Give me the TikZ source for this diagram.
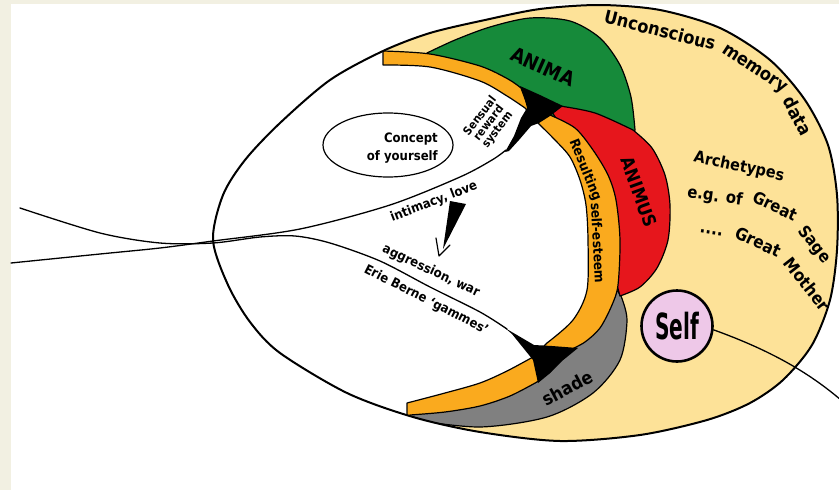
\documentclass[tikz,border=0pt]{standalone}
\usepackage{fontspec}
\setmainfont{DejaVu Sans}[FakeStretch=0.9]
\newfontfamily\selffont{DejaVu Sans}[FakeStretch=0.56]
\usetikzlibrary{shapes.geometric}
\definecolor{bgbeige}{RGB}{242,240,226}
\definecolor{yellowc}{RGB}{253,226,152}
\definecolor{greenc}{RGB}{22,138,58}
\definecolor{redc}{RGB}{230,22,28}
\definecolor{orangec}{RGB}{250,170,30}
\definecolor{grayc}{RGB}{128,128,128}
\definecolor{pinkc}{RGB}{238,200,232}
\tikzset{
  band/.style={draw=black, line width=1.2pt},
  lbl/.style={font=\bfseries\fontsize{#1}{#1}\selectfont, inner sep=0pt},
  thinline/.style={line width=1.3pt},
}
\begin{document}
\begin{tikzpicture}[x=1pt,y=-1pt,line join=round,line cap=round]
\useasboundingbox (0,0) rectangle (839,490);
\fill[bgbeige] (0,0) rectangle (839,490);
\fill[white] (11,4) rectangle (839,490);
% yellow body
\fill[yellowc] plot[smooth cycle] coordinates {(383,51) (330,80) (280,123) (245,160) (223,195) (213,240) (228,285) (250,322) (280,353) (347,393) (413,417) (480,432) (560,441) (640,435) (707,420) (750,403) (783,380) (812,345) (830,300) (837,250) (837,195) (828,145) (805,100) (770,60) (720,28) (660,10) (600,5) (540,9) (485,20) (430,33)};
\begin{scope}
\clip plot[smooth cycle] coordinates {(383,51) (330,80) (280,123) (245,160) (223,195) (213,240) (228,285) (250,322) (280,353) (347,393) (413,417) (480,432) (560,441) (640,435) (707,420) (750,403) (783,380) (812,345) (830,300) (837,250) (837,195) (828,145) (805,100) (770,60) (720,28) (660,10) (600,5) (540,9) (485,20) (430,33)};
% gray shade
\filldraw[fill=grayc, band] (610,280) -- plot[smooth] coordinates {(621,296) (627,320) (620,360) (593,393) (547,417) (480,427) (413,420)} -- (395,426) -- (420,380) -- (560,300) -- cycle;
% green anima
\filldraw[fill=greenc, band] plot[smooth] coordinates {(427,53) (455,40) (490,27) (530,18) (570,21) (600,38) (620,65) (631,97) (635,130)} -- (625,150) -- (570,140) -- (500,86) -- (432,60) -- cycle;
% red animus
\filldraw[fill=redc, band] plot[smooth] coordinates {(560,106) (595,113) (633,130)} -- plot[smooth] coordinates {(633,130) (652,148) (665,175) (670,205) (668,240) (657,268) (640,287) (620,296)} -- (610,260) -- (600,180) -- (570,140) -- (552,112) -- cycle;
% orange bands
\filldraw[fill=orangec, band] (376,46) -- plot[smooth] coordinates {(383,51) (430,54) (480,66) (508,79) (521,88)} -- (527,104) -- plot[smooth] coordinates {(550,115) (575,128) (593,150) (608,175) (616,200) (620,240) (618,285) (612,305) (600,328) (585,342) (570,350)} -- (550,372) -- plot[smooth] coordinates {(537,382) (510,396) (480,406) (445,412) (410,415)} -- (402,428) -- (300,300) -- (300,100) -- (370,62) -- cycle;
% white ego
\filldraw[fill=white, band] (407,470) -- (407,403) -- plot[smooth] coordinates {(407,403) (445,393) (480,383) (507,371) (533,357)} -- plot[smooth] coordinates {(547,343) (573,320) (587,290) (588,240) (586,205) (580,180) (570,157) (555,140) (538,123)} -- plot[smooth] coordinates {(525,108) (507,96) (480,81) (430,67) (383,65)} -- (383,40) -- (150,40) -- (150,470) -- cycle;
\end{scope}
% black wedges
\fill (505,152) -- (514,136) -- (521,118) -- (527,108) -- (524,96) -- (520,86) -- (540,95) -- (563,106) -- (550,116) -- (539,123) -- (531,126) -- (519,140) -- (509,151) -- cycle;
\fill (505,328) -- (534,345) -- (552,346) -- (578,348) -- (562,361) -- (549,374) -- (538,383) -- (533,360) -- (512,334) -- cycle;
% lines
\draw[thinline] plot[smooth] coordinates {(11,263) (100,254) (160,248) (213,241) (300,229) (390,205) (460,177) (492,160) (506,150)};
\draw[thinline] plot[smooth] coordinates {(20,208) (100,233) (160,243) (213,243) (260,237) (295,236) (330,243) (380,261) (430,287) (480,312) (507,329)};
% outline
\draw[line width=2pt] plot[smooth cycle] coordinates {(383,51) (330,80) (280,123) (245,160) (223,195) (213,240) (228,285) (250,322) (280,353) (347,393) (413,417) (480,432) (560,441) (640,435) (707,420) (750,403) (783,380) (812,345) (830,300) (837,250) (837,195) (828,145) (805,100) (770,60) (720,28) (660,10) (600,5) (540,9) (485,20) (430,33)};
% arrow
\fill (450,201) -- (466,204) -- (443,249) -- cycle;
\draw[line width=1.2pt] (436,238) -- (439,256) -- (450,245);
% concept
\node[draw, ellipse, line width=1.2pt, minimum width=130pt, minimum height=64pt] (concept) at (388,145) {};
\node[font=\bfseries\fontsize{13}{18}\selectfont, align=right, anchor=east, inner sep=0pt] (concepttxt) at (438,148) {Concept\\of yourself};
% labels
\node[lbl=20, rotate=-24] (anima) at (543,67) {ANIMA};
\node[lbl=18, rotate=-70] (animus) at (639,192) {ANIMUS};
\node[lbl=18, rotate=28] (shade) at (567,388) {shade};
\node[font=\bfseries\fontsize{11.5}{11}\selectfont, align=center, rotate=52, inner sep=0pt] (sensual) at (489,123) {Sensual\\reward\\system};
\node[lbl=13, rotate=21] (intim) at (434,202) {intimacy, love};
\node[lbl=13, rotate=-25] (aggr) at (431,271) {aggression, war};
\node[lbl=13, rotate=-27] (erie) at (426,300) {Erie Berne `gammes'};
\node[lbl=16, rotate=-12] (arch) at (739,167) {Archetypes};
\node[lbl=18, rotate=-14] (unc1) at (660,30) {Unconscious};
\node[lbl=18, rotate=-33] (unc2) at (754,70) {memory};
\node[lbl=18, rotate=-62] (unc3) at (798,116) {data};
\node[lbl=16.5, rotate=-8] (sage1) at (715,197) {e.g. of};
\node[lbl=16.5, rotate=-25] (sage2) at (775,206) {Great};
\node[lbl=16.5, rotate=-52] (sage3) at (814,245) {Sage};
\node[lbl=17, rotate=-8] (moth1) at (711,233) {....};
\node[lbl=17, rotate=-25] (moth2) at (758,242) {Great};
\node[lbl=17, rotate=-52] (moth3) at (807,284) {Mother};
\node[lbl=13.5, rotate=-68] (res1) at (585,170) {Resulting};
\node[lbl=13.5, rotate=-87] (res2) at (598,243) {self-esteem};
% self
\node[circle, draw, line width=2.6pt, fill=pinkc, minimum size=71pt, inner sep=0pt] (self) at (677,326) {\selffont\bfseries\fontsize{36}{36}\selectfont Self};
\coordinate (selfend) at (850,408);
\draw[thinline] (self.-6) .. controls (775,352) and (815,376) .. (selfend);
\end{tikzpicture}
\end{document}
